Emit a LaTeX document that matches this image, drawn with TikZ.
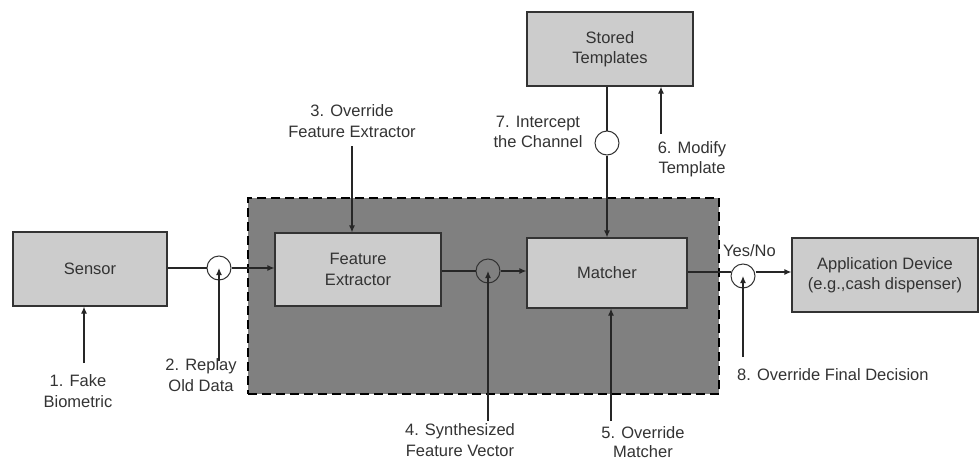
\documentclass[tikz,border=0pt]{standalone}
\usepackage{fontspec}
\setmainfont{Liberation Sans}
\usetikzlibrary{arrows.meta}
\definecolor{boxgray}{HTML}{CCCCCC}
\definecolor{darkfill}{HTML}{808080}
\definecolor{txt}{HTML}{333333}
\begin{document}
\begin{tikzpicture}[x=1pt,y=-1pt,
  every node/.style={font=\fontsize{16.5}{20.5}\selectfont, text=txt},
  blk/.style={draw=black!80, line width=1.2pt, fill=boxgray, align=center, inner sep=0pt},
  ring/.style={draw=black!80, line width=1pt, circle, minimum size=24pt, inner sep=0pt},
  lbl/.style={align=center, inner sep=0pt},
  arr/.style={line width=1.2pt, draw=black!85, -{Latex[length=7pt,width=6pt]}},
  ln/.style={line width=1.2pt, draw=black!85}]
\useasboundingbox (0,0) rectangle (979,463);
% dashed container
\node[draw=black, fill=darkfill, dashed, line width=2.2pt, dash pattern=on 9pt off 5pt, minimum width=471pt, minimum height=196pt, inner sep=0pt] (sys) at (483.5,296) {};
% blocks
\node[blk, minimum width=154pt, minimum height=74pt] (sensor) at (90,269) {Sensor};
\node[blk, minimum width=166pt, minimum height=73pt] (fe) at (358,269.5) {Feature\\Extractor};
\node[blk, minimum width=160pt, minimum height=70pt] (match) at (607,273) {Matcher};
\node[blk, minimum width=166pt, minimum height=74pt] (st) at (610,49) {Stored\\Templates};
\node[blk, minimum width=186pt, minimum height=74pt] (app) at (885,275) {Application Device\\(e.g.,cash dispenser)};
% rings
\node[ring] (c2) at (219,268) {};
\node[ring] (c4) at (488,271) {};
\node[ring] (c7) at (607,143) {};
\node[ring] (c8) at (743,276) {};
% main flow
\draw[ln] (sensor.east |- c2) -- (c2.west);
\draw[arr] (c2.east) -- (fe.west |- c2);
\draw[ln] (fe.east |- c4) -- (c4.west);
\draw[arr] (c4.east) -- (match.west |- c4);
\draw[ln] (st.south -| c7) -- (c7.north);
\draw[arr] (c7.south) -- (match.north -| c7);
\draw[ln] (match.east |- 0,272) -- (c8.west |- 0,272);
\draw[arr] (c8.east |- 0,272) -- (app.west |- 0,272);
\node[lbl, anchor=south west] (yn) at (723,257) {Yes/No};
% attack labels
\node[lbl] (t1) at (78,391) {1. Fake\\Biometric};
\coordinate (s1) at (84,363);
\draw[arr] (s1) -- (sensor.south -| s1);
\node[lbl] (t2) at (201,375) {2. Replay\\Old Data};
\coordinate (s2) at (219,361);
\draw[arr] (s2) -- (c2.center);
\node[lbl] (t3) at (352,121) {3. Override\\Feature Extractor};
\coordinate (s3) at (352,146);
\draw[arr] (s3) -- (fe.north -| s3);
\node[lbl] (t4) at (460,440) {4. Synthesized\\Feature Vector};
\coordinate (s4) at (488,421);
\draw[arr] (s4) -- (c4.center);
\node[lbl, font=\fontsize{16.5}{19}\selectfont] (t5) at (643,442) {5. Override\\Matcher};
\coordinate (s5) at (611,421);
\draw[arr] (s5) -- (match.south -| s5);
\node[lbl] (t6) at (692,159) {6. Modify\\Template};
\coordinate (s6) at (661,134);
\draw[arr] (s6) -- (st.south -| s6);
\node[lbl] (t7) at (538,132) {7. Intercept\\the Channel};
\node[lbl, anchor=west] (t8) at (737,375) {8. Override Final Decision};
\coordinate (s8) at (743,357);
\draw[arr] (s8) -- (c8.center);
\end{tikzpicture}
\end{document}
